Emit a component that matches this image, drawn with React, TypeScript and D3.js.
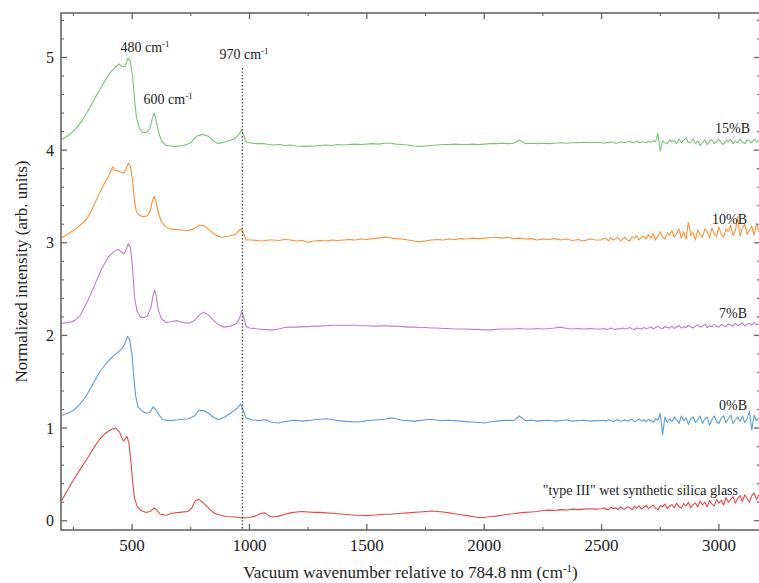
import React from 'react';
import * as d3 from 'd3';

// wavenumber grids shared by the flat parts of every spectrum (cm-1)
const midWn = d3.range(1100, 2500, 25);
const tailWn = d3.range(2500, 3171, 10);

// "type III" wet synthetic silica glass (offset 0)
const redLow = [[200,0.22],[225,0.33],[250,0.44],[280,0.56],[311,0.68],[340,0.8],[365,0.89],[390,0.95],[410,0.985],[430,1.0],[446,0.96],[455,0.9],[463,0.86],[470,0.88],[478,0.91],[486,0.84],[496,0.61],[503,0.4],[510,0.25],[522,0.15],[538,0.11],[560,0.09],[578,0.1],[593,0.14],[603,0.12],[620,0.07],[645,0.06],[670,0.08],[700,0.09],[737,0.1],[755,0.14],[770,0.22],[785,0.23],[800,0.2],[820,0.15],[840,0.1],[860,0.07],[900,0.045],[940,0.04],[970,0.03],[1000,0.035],[1025,0.05],[1050,0.08],[1065,0.085],[1085,0.05]];
const redMid = [
  0.04, 0.05, 0.07, 0.085,
  0.095, 0.1, 0.095, 0.09,
  0.09, 0.085, 0.08, 0.075,
  0.07, 0.065, 0.06, 0.06,
  0.055, 0.06, 0.065, 0.07,
  0.07, 0.075, 0.08, 0.085,
  0.09, 0.095, 0.1, 0.105,
  0.1, 0.095, 0.085, 0.075,
  0.065, 0.055, 0.045, 0.035,
  0.035, 0.045, 0.05, 0.06,
  0.07, 0.075, 0.085, 0.09,
  0.095, 0.1, 0.11, 0.115,
  0.11, 0.12, 0.115, 0.125,
  0.12, 0.125, 0.13, 0.125];
const redTail = [
  0.13, 0.14, 0.125, 0.12, 0.145, 0.13, 0.14, 0.12, 0.15, 0.13,
  0.125, 0.15, 0.14, 0.12, 0.155, 0.135, 0.16, 0.125, 0.145, 0.165,
  0.13, 0.15, 0.17, 0.135, 0.12, 0.165, 0.15, 0.18, 0.13, 0.16,
  0.175, 0.14, 0.19, 0.15, 0.135, 0.185, 0.16, 0.2, 0.14, 0.175,
  0.19, 0.15, 0.21, 0.17, 0.2, 0.15, 0.22, 0.18, 0.16, 0.23,
  0.19, 0.22, 0.17, 0.25, 0.2, 0.23, 0.26, 0.19, 0.24, 0.27,
  0.21, 0.28, 0.24, 0.2, 0.27, 0.3, 0.23, 0.28];

// 0%B (offset 1)
const blueLow = [[200,1.135],[225,1.16],[250,1.19],[275,1.25],[300,1.33],[330,1.46],[360,1.6],[390,1.7],[420,1.78],[445,1.83],[460,1.87],[472,1.93],[480,1.99],[490,1.95],[500,1.78],[507,1.55],[515,1.35],[525,1.23],[540,1.19],[560,1.16],[575,1.17],[590,1.23],[600,1.2],[615,1.14],[630,1.09],[660,1.08],[700,1.09],[740,1.1],[765,1.13],[785,1.19],[805,1.19],[825,1.16],[845,1.12],[868,1.09],[895,1.12],[925,1.17],[950,1.22],[962,1.26],[972,1.2],[985,1.11],[1010,1.09],[1040,1.08],[1070,1.09],[1085,1.07]];
const blueMid = [
  1.06, 1.055, 1.07, 1.08,
  1.085, 1.075, 1.08, 1.09,
  1.095, 1.1, 1.095, 1.08,
  1.075, 1.07, 1.065, 1.07,
  1.08, 1.085, 1.09, 1.095,
  1.11, 1.1, 1.085, 1.08,
  1.075, 1.08, 1.09, 1.095,
  1.085, 1.08, 1.085, 1.08,
  1.075, 1.07, 1.065, 1.06,
  1.055, 1.065, 1.075, 1.08,
  1.085, 1.08, 1.13, 1.08,
  1.085, 1.075, 1.08, 1.085,
  1.075, 1.08, 1.09, 1.075,
  1.08, 1.085, 1.075, 1.08];
const blueTail = [
  1.08, 1.085, 1.075, 1.09, 1.08, 1.07, 1.085, 1.09, 1.075, 1.08,
  1.09, 1.075, 1.085, 1.095, 1.07, 1.08, 1.1, 1.075, 1.09, 1.07,
  1.095, 1.08, 1.065, 1.1, 1.085, 1.16, 0.93, 1.12, 1.06, 1.1,
  1.07, 1.12, 1.09, 1.05, 1.13, 1.08, 1.11, 1.04, 1.1, 1.12,
  1.06, 1.09, 1.13, 1.05, 1.1, 1.12, 1.03, 1.09, 1.13, 1.07,
  1.05, 1.11, 1.13, 1.06, 1.1, 1.14, 1.05, 1.09, 1.12, 1.07,
  1.13, 1.06, 1.1, 1.18, 0.98, 1.14, 1.08, 1.11];

// 7%B (offset 2)
const purpleLow = [[200,2.13],[230,2.14],[255,2.16],[280,2.22],[310,2.37],[340,2.54],[370,2.72],[400,2.85],[425,2.91],[440,2.93],[455,2.9],[465,2.88],[475,2.93],[484,2.99],[493,2.95],[502,2.72],[510,2.42],[520,2.27],[535,2.2],[550,2.19],[565,2.21],[580,2.3],[590,2.44],[596,2.49],[603,2.42],[612,2.27],[625,2.18],[645,2.14],[670,2.15],[690,2.16],[715,2.14],[740,2.13],[765,2.16],[790,2.23],[805,2.25],[825,2.22],[845,2.17],[865,2.12],[890,2.09],[920,2.1],[945,2.13],[958,2.19],[967,2.26],[975,2.2],[985,2.1],[1000,2.08],[1040,2.07],[1080,2.06]];
const purpleMid = [
  2.06, 2.07, 2.085, 2.09,
  2.09, 2.095, 2.095, 2.1,
  2.1, 2.105, 2.11, 2.11,
  2.11, 2.11, 2.11, 2.105,
  2.105, 2.1, 2.1, 2.105,
  2.1, 2.1, 2.095, 2.09,
  2.09, 2.085, 2.085, 2.08,
  2.08, 2.075, 2.075, 2.07,
  2.07, 2.07, 2.065, 2.065,
  2.06, 2.06, 2.065, 2.07,
  2.07, 2.07, 2.075, 2.07,
  2.07, 2.075, 2.07, 2.075,
  2.08, 2.09, 2.075, 2.07,
  2.075, 2.07, 2.075, 2.07];
const purpleTail = [
  2.07, 2.075, 2.065, 2.07, 2.08, 2.07, 2.065, 2.075, 2.07, 2.08,
  2.07, 2.075, 2.085, 2.07, 2.065, 2.08, 2.075, 2.07, 2.085, 2.075,
  2.08, 2.095, 2.07, 2.085, 2.1, 2.08, 2.075, 2.095, 2.085, 2.08,
  2.1, 2.075, 2.09, 2.105, 2.08, 2.095, 2.085, 2.11, 2.09, 2.08,
  2.1, 2.115, 2.09, 2.1, 2.12, 2.085, 2.105, 2.095, 2.12, 2.1,
  2.09, 2.12, 2.105, 2.095, 2.125, 2.11, 2.1, 2.13, 2.105, 2.12,
  2.135, 2.1, 2.12, 2.13, 2.11, 2.14, 2.115, 2.125];

// 10%B (offset 3)
const orangeLow = [[200,3.056],[230,3.1],[260,3.15],[297,3.23],[320,3.31],[340,3.42],[360,3.53],[382,3.64],[400,3.72],[412,3.79],[418,3.82],[425,3.78],[435,3.78],[445,3.77],[455,3.76],[465,3.75],[474,3.8],[484,3.86],[493,3.82],[503,3.65],[510,3.45],[518,3.34],[530,3.3],[545,3.28],[565,3.29],[578,3.35],[586,3.45],[593,3.5],[600,3.46],[610,3.34],[624,3.23],[640,3.18],[660,3.15],[700,3.14],[737,3.13],[760,3.15],[787,3.19],[810,3.18],[837,3.12],[860,3.08],[880,3.06],[910,3.07],[940,3.09],[955,3.13],[964,3.15],[975,3.1],[986,3.03],[1010,3.03],[1050,3.02],[1085,3.03]];
const orangeMid = [
  3.03, 3.025, 3.035, 3.03,
  3.02, 3.025, 3.005, 3.02,
  3.025, 3.02, 3.03, 3.025,
  3.03, 3.035, 3.03, 3.04,
  3.035, 3.045, 3.05, 3.06,
  3.055, 3.045, 3.04, 3.03,
  3.02, 3.01, 3.02, 3.03,
  3.035, 3.03, 3.04, 3.035,
  3.045, 3.04, 3.05, 3.045,
  3.05, 3.055, 3.06, 3.05,
  3.06, 3.045, 3.05, 3.04,
  3.045, 3.03, 3.04, 3.035,
  3.045, 3.03, 3.04, 3.025,
  3.035, 3.02, 3.04, 3.03];
const orangeTail = [
  3.03, 3.05, 3.04, 3.02, 3.055, 3.03, 3.045, 3.06, 3.02, 3.04,
  3.06, 3.03, 3.02, 3.065, 3.05, 3.08, 3.03, 3.06, 3.07, 3.04,
  3.09, 3.05, 3.1, 3.03, 3.07, 3.12, 3.06, 3.04, 3.11, 3.08,
  3.13, 3.06, 3.1, 3.15, 3.05, 3.12, 3.04, 3.22, 3.08, 3.11,
  3.03, 3.14, 3.09, 3.06, 3.15, 3.12, 3.05, 3.16, 3.1, 3.07,
  3.17, 3.09, 3.06, 3.15, 3.12, 3.19, 3.08, 3.13, 3.28, 3.07,
  3.16, 3.2, 3.09, 3.13, 3.18, 3.08, 3.21, 3.12];

// 15%B (offset 4)
const greenLow = [[200,4.115],[230,4.16],[260,4.23],[290,4.33],[320,4.46],[350,4.6],[380,4.73],[410,4.85],[430,4.9],[445,4.93],[460,4.9],[470,4.9],[482,4.99],[492,4.96],[502,4.8],[510,4.55],[518,4.36],[530,4.24],[545,4.19],[560,4.19],[575,4.23],[585,4.33],[594,4.4],[602,4.33],[612,4.2],[625,4.1],[645,4.05],[680,4.04],[720,4.05],[750,4.08],[775,4.15],[800,4.17],[825,4.15],[845,4.1],[865,4.07],[900,4.09],[935,4.12],[955,4.17],[966,4.22],[975,4.16],[985,4.09],[1000,4.08],[1030,4.07],[1060,4.07],[1085,4.06]];
const greenMid = [
  4.055, 4.06, 4.05, 4.055,
  4.045, 4.04, 4.04, 4.045,
  4.05, 4.055, 4.05, 4.06,
  4.055, 4.06, 4.065, 4.06,
  4.065, 4.07, 4.065, 4.075,
  4.075, 4.065, 4.06, 4.055,
  4.045, 4.04, 4.045, 4.05,
  4.055, 4.06, 4.06, 4.065,
  4.06, 4.06, 4.065, 4.06,
  4.065, 4.07, 4.07, 4.075,
  4.07, 4.075, 4.11, 4.07,
  4.075, 4.07, 4.075, 4.07,
  4.075, 4.08, 4.075, 4.08,
  4.08, 4.085, 4.08, 4.085];
const greenTail = [
  4.08, 4.075, 4.085, 4.08, 4.09, 4.085, 4.075, 4.08, 4.09, 4.085,
  4.08, 4.09, 4.095, 4.08, 4.085, 4.095, 4.08, 4.09, 4.085, 4.08,
  4.095, 4.085, 4.1, 4.09, 4.18, 3.99, 4.1, 4.08, 4.07, 4.11,
  4.09, 4.1, 4.07, 4.12, 4.08, 4.11, 4.13, 4.08, 4.09, 4.12,
  4.07, 4.1, 4.05, 4.08, 4.11, 4.06, 4.1, 4.11, 4.07, 4.09,
  4.12, 4.08, 4.06, 4.11, 4.09, 4.12, 4.07, 4.1, 4.08, 4.12,
  4.09, 4.07, 4.11, 4.1, 4.08, 4.12, 4.09, 4.1];

const seriesNames = ['"type III" wet synthetic silica glass', '0%B', '7%B', '10%B', '15%B'];
const seriesColors = ['#e8474b', '#5e9dd2', '#bb80c6', '#fd9038', '#76c575'];
const seriesParts = [
  [redLow, redMid, redTail],
  [blueLow, blueMid, blueTail],
  [purpleLow, purpleMid, purpleTail],
  [orangeLow, orangeMid, orangeTail],
  [greenLow, greenMid, greenTail],
];

const peakLabels = [
  { wn: 480, text: '480 cm' },
  { wn: 600, text: '600 cm' },
  { wn: 970, text: '970 cm' },
];

const xMajor = [500, 1000, 1500, 2000, 2500, 3000];
const xMinor = [250, 750, 1250, 1750, 2250, 2750];
const yMajor = [0, 1, 2, 3, 4, 5];

const W = 759;
const H = 583;
const L = 61, R = 760, T = 13, B = 530;
const FONT = '"Liberation Serif", "Times New Roman", serif';

export default function App() {
  const x = d3.scaleLinear().domain([197, 3175]).range([L, R]);
  const y = d3.scaleLinear().domain([-0.1, 5.48]).range([B, T]);
  const yMinor = d3.range(0, 5.5, 0.2).filter(v => Math.abs(v - Math.round(v)) > 0.01);

  const line = d3.line<number[]>().x(d => x(d[0])).y(d => y(d[1]));

  const series = seriesParts.map(([low, mid, tail], i) => ({
    name: seriesNames[i],
    color: seriesColors[i],
    points: [
      ...low,
      ...d3.zip(midWn, mid as number[]),
      ...d3.zip(tailWn, tail as number[]),
    ] as number[][],
  }));

  const axisColor = '#666';
  const textColor = '#222';

  // label placement
  const seriesLabelPos = [
    { x: 738, y: 495 },
    { x: 747, y: 410 },
    { x: 747, y: 318 },
    { x: 747, y: 224 },
    { x: 750, y: 133 },
  ];
  const peakLabelY = [52, 104, 59];
  const peakLabelDx = [-7, -12, -23];

  return (
    <svg width={W} height={H} style={{ position: 'absolute', left: 0, top: 0, background: '#fff' }}
      fontFamily={FONT}>
      <defs>
        <clipPath id="plot">
          <rect x={L} y={T} width={R - L} height={B - T} />
        </clipPath>
      </defs>

      <g clipPath="url(#plot)">
        {series.map(s => (
          <path key={s.name} d={line(s.points) || ''} fill="none" stroke={s.color}
            strokeWidth={1.1} strokeLinejoin="round" />
        ))}
        <line x1={x(970)} x2={x(970)} y1={68} y2={B} stroke="#444" strokeWidth={1.4}
          strokeDasharray="1.4 2" />
      </g>

      {/* frame */}
      <rect x={L} y={T} width={R - L} height={B - T} fill="none" stroke={axisColor} strokeWidth={1.6} />

      {/* x ticks bottom and top */}
      {xMajor.map(v => (
        <g key={'xM' + v}>
          <line x1={x(v)} x2={x(v)} y1={B} y2={B - 6} stroke={axisColor} strokeWidth={1.3} />
          <line x1={x(v)} x2={x(v)} y1={T} y2={T + 6} stroke={axisColor} strokeWidth={1.3} />
          <text x={x(v)} y={551} textAnchor="middle" fontSize={17} fill={textColor}>{v}</text>
        </g>
      ))}
      {xMinor.map(v => (
        <g key={'xm' + v}>
          <line x1={x(v)} x2={x(v)} y1={B} y2={B - 3} stroke={axisColor} strokeWidth={1.1} />
          <line x1={x(v)} x2={x(v)} y1={T} y2={T + 3} stroke={axisColor} strokeWidth={1.1} />
        </g>
      ))}

      {/* y ticks left and right */}
      {yMajor.map(v => (
        <g key={'yM' + v}>
          <line x1={L} x2={L + 6} y1={y(v)} y2={y(v)} stroke={axisColor} strokeWidth={1.3} />
          <line x1={R} x2={R - 6} y1={y(v)} y2={y(v)} stroke={axisColor} strokeWidth={1.3} />
          <text x={54} y={y(v) + 5.5} textAnchor="end" fontSize={16} fill={textColor}>{v}</text>
        </g>
      ))}
      {yMinor.map(v => (
        <g key={'ym' + v.toFixed(1)}>
          <line x1={L} x2={L + 3} y1={y(v)} y2={y(v)} stroke={axisColor} strokeWidth={1.1} />
          <line x1={R} x2={R - 3} y1={y(v)} y2={y(v)} stroke={axisColor} strokeWidth={1.1} />
        </g>
      ))}

      {/* peak annotations */}
      {peakLabels.map((p, i) => (
        <text key={p.text + i} x={x(p.wn) + peakLabelDx[i]} y={peakLabelY[i]} fontSize={14} fill={textColor}>
          {p.text}<tspan dy={-5} fontSize={9}>-1</tspan>
        </text>
      ))}

      {/* series labels */}
      {series.map((s, i) => (
        <text key={'lab' + i} x={seriesLabelPos[i].x} y={seriesLabelPos[i].y} textAnchor="end"
          fontSize={14} fill={textColor}>{s.name}</text>
      ))}

      {/* axis titles */}
      <text x={(L + R) / 2} y={578} textAnchor="middle" fontSize={17} fill={textColor}>
        Vacuum wavenumber relative to 784.8 nm (cm<tspan dy={-6} fontSize={11}>-1</tspan><tspan dy={6}>)</tspan>
      </text>
      <text transform={`translate(27,${(T + B) / 2}) rotate(-90)`} textAnchor="middle" fontSize={17} fill={textColor}>
        Normalized intensity (arb. units)
      </text>
    </svg>
  );
}
